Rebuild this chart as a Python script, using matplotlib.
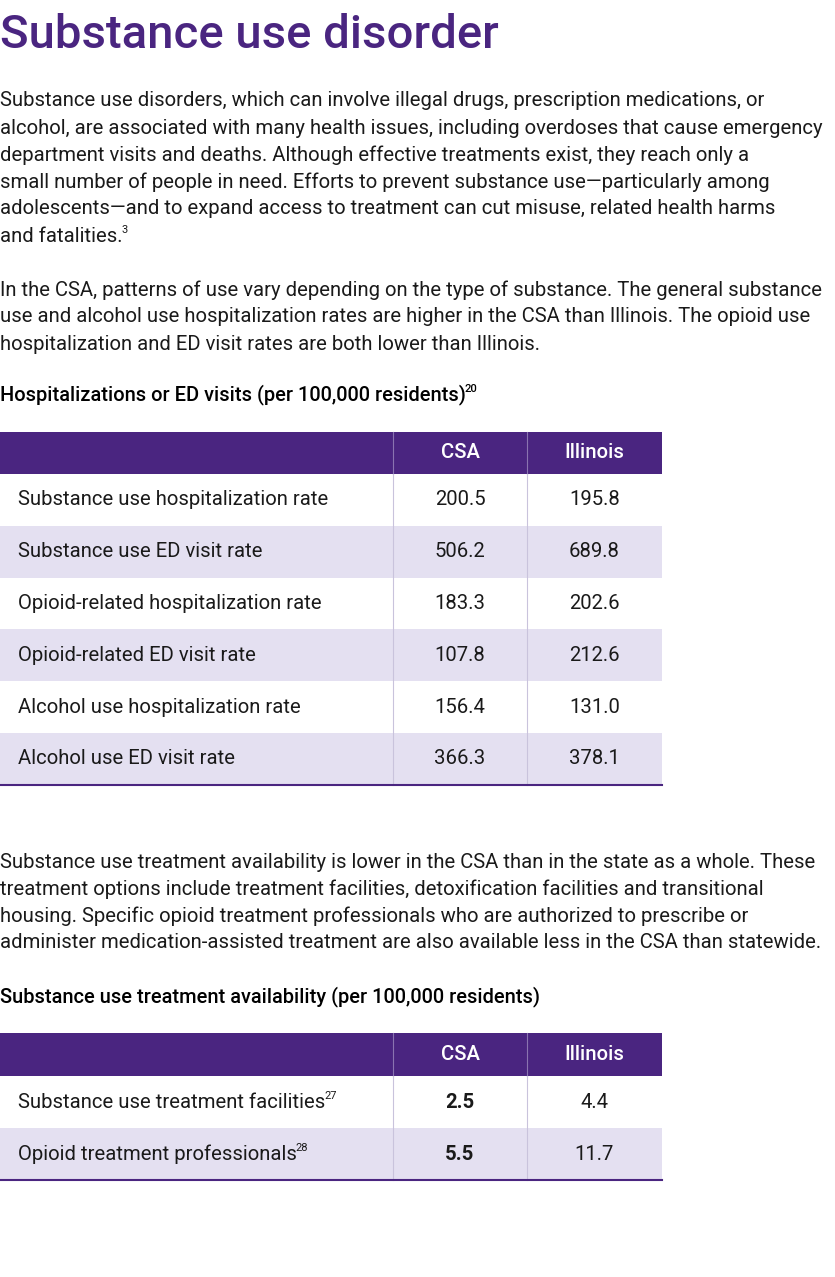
import matplotlib
matplotlib.use("Agg")
import matplotlib.pyplot as plt
from matplotlib.patches import Rectangle

PURPLE = "#4A2580"
SHADE = "#E4E0F1"
FONT = "Roboto"

title = "Substance use disorder"
para1 = ["Substance use disorders, which can involve illegal drugs, prescription medications, or",
         "alcohol, are associated with many health issues, including overdoses that cause emergency",
         "department visits and deaths. Although effective treatments exist, they reach only a",
         "small number of people in need. Efforts to prevent substance use\u2014particularly among",
         "adolescents\u2014and to expand access to treatment can cut misuse, related health harms",
         "and fatalities."]
para2 = ["In the CSA, patterns of use vary depending on the type of substance. The general substance",
         "use and alcohol use hospitalization rates are higher in the CSA than Illinois. The opioid use",
         "hospitalization and ED visit rates are both lower than Illinois."]
para3 = ["Substance use treatment availability is lower in the CSA than in the state as a whole. These",
         "treatment options include treatment facilities, detoxification facilities and transitional",
         "housing. Specific opioid treatment professionals who are authorized to prescribe or",
         "administer medication-assisted treatment are also available less in the CSA than statewide."]

columns = ["CSA", "Illinois"]
t1_rows = ["Substance use hospitalization rate", "Substance use ED visit rate",
           "Opioid-related hospitalization rate", "Opioid-related ED visit rate",
           "Alcohol use hospitalization rate", "Alcohol use ED visit rate"]
t1_csa = [200.5, 506.2, 183.3, 107.8, 156.4, 366.3]
t1_il = [195.8, 689.8, 202.6, 212.6, 131.0, 378.1]
t2_rows = ["Substance use treatment facilities", "Opioid treatment professionals"]
t2_sup = ["27", "28"]
t2_csa = [2.5, 5.5]
t2_il = [4.4, 11.7]

BODY = 14.6

fig = plt.figure(figsize=(8.35, 12.77), dpi=100)
ax = fig.add_axes([0, 0, 1, 1])
ax.set_xlim(0, 835); ax.set_ylim(1277, 0); ax.axis("off")
fig.canvas.draw()
r = fig.canvas.get_renderer()

def txt(x, y, s, size=BODY, **kw):
    kw.setdefault("color", "#1a1a1a")
    return ax.text(x, y, s, fontsize=size, family=FONT, va="center", **kw)

def sup(t, s, dy=-6, size=8, **kw):
    bb = t.get_window_extent(renderer=r)
    x = bb.x1 - 1
    y = 1277 - (bb.y0 + bb.y1) / 2 + dy
    txt(x, y, s, size=size, **kw)

txt(0, 35, title, size=34, color=PURPLE, fontweight="medium")
for i, l in enumerate(para1):
    t = txt(0, 101 + 27 * i, l)
sup(t, "3")
for i, l in enumerate(para2):
    txt(0, 290 + 27 * i, l)
t = txt(0, 395, "Hospitalizations or ED visits (per 100,000 residents)", size=14.4, fontweight="medium", color="black")
sup(t, "20", fontweight="medium", color="black")

x0, xc1, xc2, xe = 0, 393, 527, 662

def table(top, hh, rh, rows, csa, il, fmt, bold_csa=False, sups=None):
    ax.add_patch(Rectangle((x0, top), xe - x0, hh, color=PURPLE, lw=0))
    for c, xa, xb in [(columns[0], xc1, xc2), (columns[1], xc2, xe)]:
        txt((xa + xb) / 2, top + hh / 2, c, size=BODY, color="white", ha="center", fontweight="medium")
    for xv in (xc1, xc2):
        ax.plot([xv, xv], [top, top + hh], color="#8a74b0", lw=0.8)
    y = top + hh
    for i, name in enumerate(rows):
        if i % 2 == 1:
            ax.add_patch(Rectangle((x0, y), xe - x0, rh, color=SHADE, lw=0))
        t = txt(18, y + rh / 2, name)
        if sups:
            sup(t, sups[i])
        txt((xc1 + xc2) / 2, y + rh / 2, fmt.format(csa[i]), ha="center",
            fontweight="bold" if bold_csa else "normal")
        txt((xc2 + xe) / 2, y + rh / 2, fmt.format(il[i]), ha="center")
        y += rh
    for xv in (xc1, xc2):
        ax.plot([xv, xv], [top + hh, y], color="#c9c3dc", lw=0.8)
    ax.plot([x0, xe], [y, y], color=PURPLE, lw=1.5)

table(432, 42, 51.8, t1_rows, t1_csa, t1_il, "{:.1f}")
for i, l in enumerate(para3):
    txt(0, 862 + 27 * i, l)
txt(0, 997, "Substance use treatment availability (per 100,000 residents)", size=14.4, fontweight="medium", color="black")
table(1033, 43, 52, t2_rows, t2_csa, t2_il, "{:.1f}", bold_csa=True, sups=t2_sup)

fig.savefig("out.png", dpi=100)
